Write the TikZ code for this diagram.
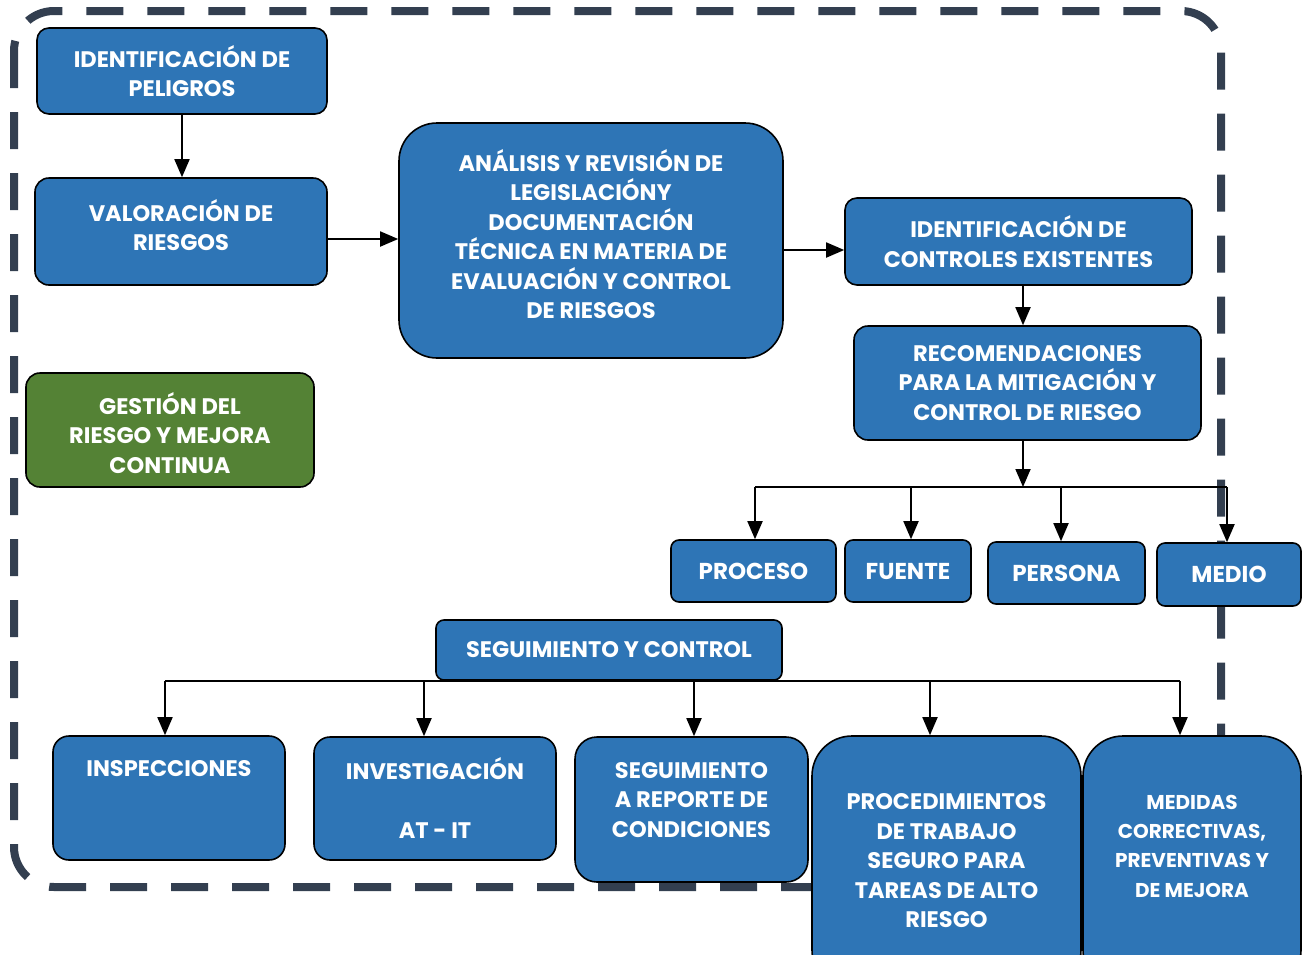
\documentclass[tikz,border=0pt]{standalone}
\usepackage{fontspec}
\setmainfont{Poppins}
\usetikzlibrary{arrows.meta}
\usetikzlibrary{positioning}
\definecolor{mblue}{RGB}{46,117,182}
\definecolor{mgreen}{RGB}{84,130,53}
\definecolor{mframe}{RGB}{51,63,80}

\tikzset{
  box/.style={draw=black, line width=1.6pt, fill=mblue, rounded corners=12pt,
    text=white, font=\bfseries\fontsize{22.5}{29.5}\selectfont, align=center, inner sep=0pt},
  txt/.style={text=white, font=\bfseries\fontsize{22.5}{29.5}\selectfont, align=center, inner sep=0pt},
  big/.style={font=\bfseries\fontsize{23}{29.5}\selectfont, rounded corners=8pt},
  arr/.style={-{Triangle[width=15pt,length=18pt]}, line width=1.8pt},
  bus/.style={line width=1.8pt}
}

\begin{document}
\begin{tikzpicture}[x=1pt, y=-1pt]
  \useasboundingbox (0,0) rectangle (1310,954);

  % frame
  \draw [mframe, line width=8pt, dash pattern=on 37pt off 24pt, rounded corners=40pt]
    (14,11) rectangle (1221,887);

  % upper part
  \node [box, minimum width=290, minimum height=86] (pelig) at (182,71) {IDENTIFICACIÓN DE\\PELIGROS};
  \node [box, minimum width=292, minimum height=107, rounded corners=14pt] (valor) at (181,231.5) {};
  \node [txt] at (181,225) {VALORACIÓN DE\\RIESGOS};
  \node [box, minimum width=384, minimum height=235, rounded corners=38pt] (anal) at (591,240.5) {};
  \node [txt] at (591,234) {ANÁLISIS Y REVISIÓN DE\\LEGISLACIÓNY\\DOCUMENTACIÓN\\TÉCNICA EN MATERIA DE\\EVALUACIÓN Y CONTROL\\DE RIESGOS};
  \node [box, minimum width=347, minimum height=87] (contr) at (1018.5,241.5) {IDENTIFICACIÓN DE\\CONTROLES EXISTENTES};
  \node [box, minimum width=347, minimum height=114, rounded corners=14pt] (recom) at (1027.5,383) {RECOMENDACIONES\\PARA LA MITIGACIÓN Y\\CONTROL DE RIESGO};
  \node [box, fill=mgreen, minimum width=288, minimum height=114, rounded corners=14pt] (gest) at (170,430) {};
  \node [txt] at (170,433) {GESTIÓN DEL\\RIESGO Y MEJORA\\CONTINUA};

  \draw [arr] (pelig.south) -- (pelig.south |- valor.north);
  \draw [arr] (valor.east |- 0,239) -- (anal.west |- 0,239);
  \draw [arr] (anal.east |- 0,250) -- (contr.west |- 0,250);
  \draw [arr] (contr.south -| 1023,0) -- (recom.north -| 1023,0);

  % factors
  \node [box, big, minimum width=165, minimum height=62] (proc) at (753.5,571) {PROCESO};
  \node [box, big, minimum width=126, minimum height=62] (fuen) at (908,571) {FUENTE};
  \node [box, big, minimum width=157, minimum height=62] (pers) at (1066.5,573) {PERSONA};
  \node [box, big, minimum width=144, minimum height=63] (medio) at (1229,574.5) {MEDIO};

  \coordinate (r0) at (1023,487);
  \coordinate (r1) at (755,487);
  \coordinate (r2) at (911,487);
  \coordinate (r3) at (1061,487);
  \coordinate (r4) at (1227,487);
  \draw [arr] (recom.south -| r0) -- (r0);
  \draw [bus] (r1) -- (r4);
  \draw [arr] (r1) -- (r1 |- proc.north);
  \draw [arr] (r2) -- (r2 |- fuen.north);
  \draw [arr] (r3) -- (r3 |- pers.north);
  \draw [arr] (r4) -- (r4 |- medio.north);

  % follow-up
  \node [box, rounded corners=8pt, minimum width=346, minimum height=60] (segc) at (609,650) {SEGUIMIENTO Y CONTROL};
  \node [box, rounded corners=16pt, minimum width=232, minimum height=124] (insp) at (169,798) {INSPECCIONES\\~\\~};
  \node [box, rounded corners=16pt, minimum width=242, minimum height=123] (inves) at (435,798.5) {INVESTIGACIÓN\\~\\AT - IT};
  \node [box, rounded corners=22pt, minimum width=233, minimum height=145] (segr) at (691.5,809.5) {};
  \node [txt] at (691.5,800) {SEGUIMIENTO\\A REPORTE DE\\CONDICIONES};
  \node [box, rounded corners=40pt, minimum width=269, minimum height=254] (proce) at (946.5,863) {};
  \node [txt] at (946.5,861) {PROCEDIMIENTOS\\DE TRABAJO\\SEGURO PARA\\TAREAS DE ALTO\\RIESGO};
  \node [box, rounded corners=40pt, minimum width=218, minimum height=254] (medid) at (1192,863) {};
  \node [txt, font=\bfseries\fontsize{20}{29.3}\selectfont] at (1192,846) {MEDIDAS\\CORRECTIVAS,\\PREVENTIVAS Y\\DE MEJORA};

  \coordinate (s1) at (165,681);
  \coordinate (s2) at (424,681);
  \coordinate (s3) at (694,681);
  \coordinate (s4) at (930,681);
  \coordinate (s5) at (1180,681);
  \draw [bus] (s1) -- (s5);
  \draw [arr] (s1) -- (s1 |- insp.north);
  \draw [arr] (s2) -- (s2 |- inves.north);
  \draw [arr] (s3) -- (s3 |- segr.north);
  \draw [arr] (s4) -- (s4 |- proce.north);
  \draw [arr] (s5) -- (s5 |- medid.north);
\end{tikzpicture}
\end{document}
